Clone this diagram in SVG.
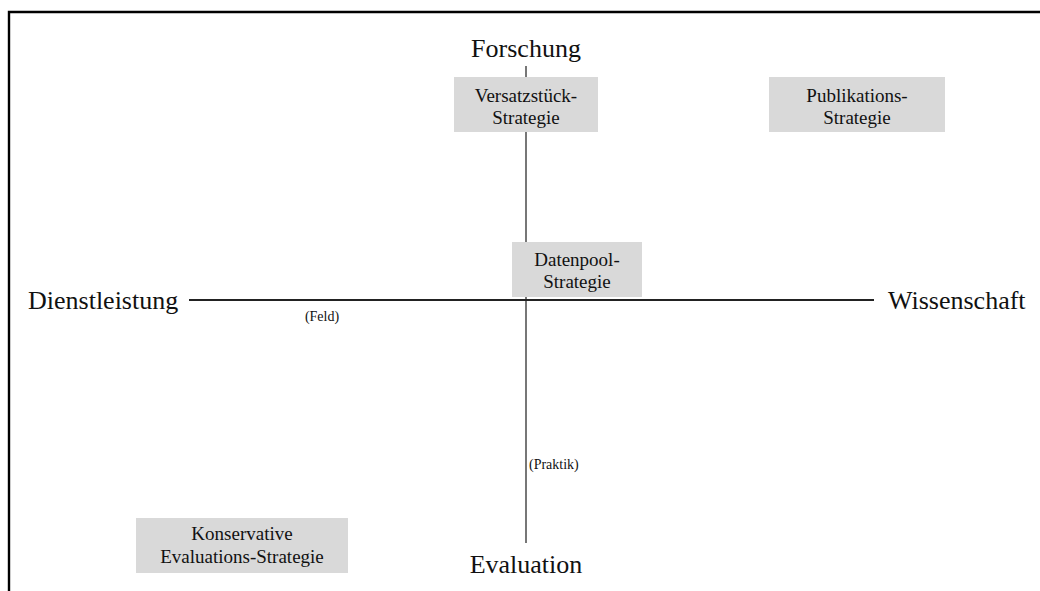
<svg xmlns="http://www.w3.org/2000/svg" width="1040" height="591" viewBox="0 0 1040 591">
  <style>
    .axis-label { font-family: "Liberation Serif", "Times New Roman", serif; font-size: 26px; fill: #111; }
    .note { font-family: "Liberation Serif", "Times New Roman", serif; font-size: 14px; fill: #111; }
    .box rect { fill: #d9d9d9; stroke: none; }
    .box text { font-family: "Liberation Serif", "Times New Roman", serif; font-size: 19px; fill: #111; text-anchor: middle; }
  </style>
  <rect width="1040" height="591" fill="#ffffff"/>
  <!-- page frame, open to the right and bottom -->
  <path d="M9,600 V12 H1050" fill="none" stroke="#000" stroke-width="2.4"/>

  <!-- axes -->
  <g id="connectors">
    <line x1="526" y1="66" x2="526" y2="543" stroke="#777" stroke-width="2"/>
    <line x1="189" y1="300" x2="874" y2="300" stroke="#222" stroke-width="1.8"/>
  </g>

  <!-- axis end labels -->
  <g id="axis-labels">
    <text class="axis-label" x="526" y="57" text-anchor="middle">Forschung</text>
    <text class="axis-label" x="526" y="573" text-anchor="middle">Evaluation</text>
    <text class="axis-label" x="28" y="309">Dienstleistung</text>
    <text class="axis-label" x="888" y="309">Wissenschaft</text>
    <text class="note" x="322" y="321" text-anchor="middle">(Feld)</text>
    <text class="note" x="529" y="469">(Praktik)</text>
  </g>

  <!-- strategy boxes -->
  <g id="versatzstueck" class="box">
    <rect x="454" y="77" width="144" height="55"/>
    <text x="526" y="102">Versatzstück-</text>
    <text x="526" y="124">Strategie</text>
  </g>
  <g id="publikation" class="box">
    <rect x="769" y="77" width="176" height="55"/>
    <text x="857" y="102">Publikations-</text>
    <text x="857" y="124">Strategie</text>
  </g>
  <g id="datenpool" class="box">
    <rect x="512" y="242" width="130" height="55"/>
    <text x="577" y="266">Datenpool-</text>
    <text x="577" y="288">Strategie</text>
  </g>
  <g id="konservativ" class="box">
    <rect x="136" y="518" width="212" height="55"/>
    <text x="242" y="540">Konservative</text>
    <text x="242" y="563">Evaluations-Strategie</text>
  </g>
</svg>
